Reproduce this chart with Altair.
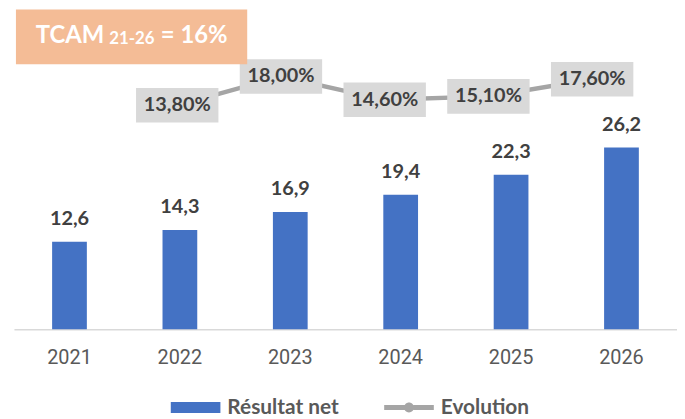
import altair as alt
import pandas as pd

years = ["2021", "2022", "2023", "2024", "2025", "2026"]
resultat = [12.6, 14.3, 16.9, 19.4, 22.3, 26.2]
evo_years = [2022, 2023, 2024, 2025, 2026]
evolution = [13.8, 18.0, 14.6, 15.1, 17.6]

bar_df = pd.DataFrame({
    "annee": years,
    "valeur": resultat,
    "label": [f"{v:.1f}".replace(".", ",") for v in resultat],
    "serie": ["Résultat net"] * len(years),
})
line_df = pd.DataFrame({
    "annee": evo_years,
    "evo": evolution,
    "label": [f"{v:.2f}".replace(".", ",") + "%" for v in evolution],
    "serie": ["Evolution"] * len(evo_years),
})

FONT = "Lato"
color_scale = alt.Scale(domain=["Résultat net", "Evolution"], range=["#4472C4", "#A5A5A5"])

legend = alt.Legend(
    title=None, orient="none", direction="horizontal", legendX=158, legendY=376,
    symbolSize=2500, labelFontSize=21, labelFont=FONT, labelFontWeight="bold",
    labelColor="#595959", labelOffset=7, columnPadding=45,
    symbolType=alt.ExprRef(expr="datum.value === 'Résultat net' ? 'M-1,-0.22H1V0.22H-1Z' : 'M-1,-0.1H-0.18V0.1H-1Z M0.18,-0.1H1V0.1H0.18Z M-0.2,0A0.2,0.2,0,1,1,0.2,0A0.2,0.2,0,1,1,-0.2,0Z'"),
    symbolFillColor=alt.ExprRef(expr="datum.value === 'Résultat net' ? '#4472C4' : '#A5A5A5'"),
    symbolStrokeWidth=0, symbolOpacity=1,
)

xb = alt.X("annee:N", title=None,
           scale=alt.Scale(paddingInner=0.686, paddingOuter=0.346),
           axis=alt.Axis(labelAngle=0, ticks=False, domainColor="#D9D9D9", domainWidth=1.5,
                         labelFontSize=20, labelFont="Liberation Sans Narrow, Roboto", labelColor="#595959",
                         labelPadding=19, grid=False))
yb = alt.Y("valeur:Q", title=None, scale=alt.Scale(domain=[0, 46.13], nice=False), axis=None)

base_bar = alt.Chart(bar_df)
bars = base_bar.mark_bar(size=35).encode(
    x=xb, y=yb,
    color=alt.Color("serie:N", scale=color_scale, legend=legend),
)
bar_text = base_bar.mark_text(dy=-17, baseline="alphabetic", fontSize=20, fontWeight="bold",
                              font=FONT, color="#404040").encode(x=xb, y=yb, text="label:N")
bar_layer = alt.layer(bars, bar_text)

xl = alt.X("annee:Q", scale=alt.Scale(domain=[2020.426, 2026.818], nice=False, zero=False), axis=None)
yl = alt.Y("evo:Q", scale=alt.Scale(domain=[-18.88, 27.78], nice=False, zero=False), axis=None)
base_line = alt.Chart(line_df)
line = base_line.mark_line(strokeWidth=4.5).encode(
    x=xl, y=yl, color=alt.Color("serie:N", scale=color_scale, legend=legend))
boxes = base_line.mark_point(shape="M-1,-0.42H1V0.42H-1Z", size=6889, filled=True,
                             color="#D9D9D9", opacity=1, strokeWidth=0).encode(x=xl, y=yl)
box_text = base_line.mark_text(fontSize=20, fontWeight="bold", font=FONT, color="#404040",
                               baseline="middle").encode(x=xl, y=yl, text="label:N")
line_layer = alt.layer(line, boxes, box_text)

ann_df = pd.DataFrame({"a": [0]})
ann_base = alt.Chart(ann_df)
ann_box = ann_base.mark_rect(color="#F4BC96").encode(
    x=alt.value(2), x2=alt.value(235), y=alt.value(0), y2=alt.value(55))
ann_t1 = ann_base.mark_text(text="TCAM", align="left", baseline="alphabetic", fontSize=24,
                            fontWeight="bold", font=FONT, color="white").encode(
    x=alt.value(22), y=alt.value(34))
ann_t2 = ann_base.mark_text(text="21-26", align="left", baseline="alphabetic", fontSize=17,
                            fontWeight="bold", font=FONT, color="white").encode(
    x=alt.value(96), y=alt.value(35))
ann_t3 = ann_base.mark_text(text="= 16%", align="left", baseline="alphabetic", fontSize=24,
                            fontWeight="bold", font=FONT, color="white").encode(
    x=alt.value(148), y=alt.value(34))
ann_layer = alt.layer(ann_box, ann_t1, ann_t2, ann_t3)

chart = alt.layer(bar_layer, line_layer, ann_layer).resolve_scale(
    x="independent", y="independent"
).properties(
    width=668, height=322,
    padding={"left": 6, "top": 0, "right": 0, "bottom": 4},
).configure_view(stroke=None)

chart.save("out.html", embed_options={"renderer": "svg", "actions": False})
